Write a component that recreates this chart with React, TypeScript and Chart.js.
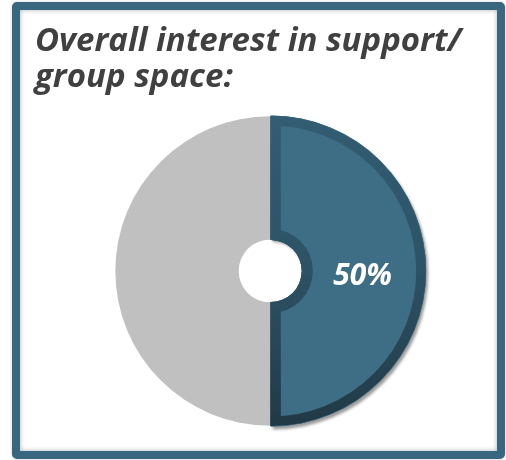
import React, { useEffect, useRef } from "react";
import { Chart, registerables } from "chart.js";

Chart.register(...registerables);

const TITLE_LINES = ["Overall interest in support/", "group space:"];
const CATEGORIES = ["Interested", "Not interested"];
const VALUES = [50, 50];
const SHOW_LABEL = [true, false];

export default function App() {
  const ref = useRef<HTMLCanvasElement>(null);

  useEffect(() => {
    const canvas = ref.current;
    if (!canvas) return;
    const total = VALUES.reduce((a, b) => a + b, 0);

    const shadowPlugin = {
      id: "sliceShadow",
      beforeDatasetsDraw(chart: any) {
        const meta = chart.getDatasetMeta(0);
        const ctx = chart.ctx;
        meta.data.forEach((arc: any, i: number) => {
          if (i !== 0) return;
          ctx.save();
          ctx.shadowColor = "rgba(0,0,0,0.4)";
          ctx.shadowOffsetX = 2;
          ctx.shadowOffsetY = 3;
          ctx.shadowBlur = 3;
          arc.draw(ctx, chart.chartArea);
          ctx.restore();
        });
      },
    };

    const labelPlugin = {
      id: "sliceLabels",
      afterDatasetsDraw(chart: any) {
        const meta = chart.getDatasetMeta(0);
        const ctx = chart.ctx;
        ctx.save();
        ctx.font = "italic bold 30px 'Open Sans'";
        ctx.fillStyle = "#ffffff";
        ctx.textAlign = "center";
        ctx.textBaseline = "middle";
        meta.data.forEach((arc: any, i: number) => {
          if (!SHOW_LABEL[i]) return;
          const p = arc.tooltipPosition(false);
          ctx.fillText(Math.round((VALUES[i] / total) * 100) + "%", p.x - 2, p.y + 5);
        });
        ctx.restore();
      },
    };

    const chart = new Chart(canvas, {
      type: "doughnut",
      data: {
        labels: CATEGORIES,
        datasets: [
          {
            data: VALUES,
            backgroundColor: ["#3e6d86", "#c0c0c0"],
            borderWidth: [10, 0],
            borderAlign: "inner",
            borderJoinStyle: "miter",
            borderColor: (c: any) => {
              if (c.dataIndex !== 0) return "#c0c0c0";
              const area = c.chart.chartArea;
              if (!area) return "#2e5467";
              const g = c.chart.ctx.createLinearGradient(0, area.top, 0, area.bottom);
              g.addColorStop(0, "#335d73");
              g.addColorStop(0.5, "#2d5265");
              g.addColorStop(1, "#213945");
              return g;
            },
            offset: [3, 0],
            hoverOffset: 0,
          } as any,
        ],
      },
      options: {
        responsive: false,
        animation: false,
        cutout: "20%",
        layout: {
          padding: { left: 113.5, right: 79.5, top: 114.5, bottom: 32.5 },
        },
        plugins: {
          legend: { display: false },
          tooltip: { enabled: false },
          title: { display: false },
        },
        events: [],
      },
      plugins: [shadowPlugin, labelPlugin],
    });

    return () => chart.destroy();
  }, []);

  return (
    <div>
      <div
        style={{
          position: "absolute",
          left: 12,
          top: 2,
          width: 493,
          height: 457,
          boxSizing: "border-box",
          border: "8px solid #3a6780",
          borderRadius: 5,
          background: "#ffffff",
          boxShadow: "inset 0 0 5px rgba(0,0,0,0.3), 0 0 3px rgba(0,0,0,0.2)",
        }}
      />
      <canvas
        ref={ref}
        width={506}
        height={460}
        style={{ position: "absolute", left: 0, top: 0, width: 506, height: 460 }}
      />
      <div
        style={{
          position: "absolute",
          left: 35,
          top: 21,
          fontFamily: "'Open Sans'",
          fontWeight: "bold",
          fontStyle: "italic",
          fontSize: 33,
          lineHeight: "36px",
          color: "#404040",
          whiteSpace: "nowrap",
        }}
      >
        {TITLE_LINES.map((t, i) => (
          <div key={i}>{t}</div>
        ))}
      </div>
    </div>
  );
}
